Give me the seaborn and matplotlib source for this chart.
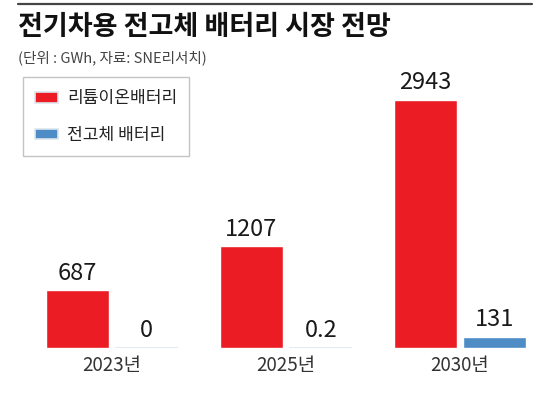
import pandas as pd
import matplotlib.pyplot as plt
import seaborn as sns
from matplotlib.lines import Line2D

# data (GWh)
years = ["2023년", "2025년", "2030년"]
liion = [687, 1207, 2943]
solid = [0, 0.2, 131]
series_names = ["리튬이온배터리", "전고체 배터리"]
value_labels = [["687", "1207", "2943"], ["0", "0.2", "131"]]

df = pd.DataFrame({
    "year": years * 2,
    "value": liion + solid,
    "type": [series_names[0]] * 3 + [series_names[1]] * 3,
})

sns.set_theme(style="white")
plt.rcParams["font.family"] = ["Noto Sans CJK KR", "DejaVu Sans"]

fig = plt.figure(figsize=(5.44, 3.97), dpi=100)
ax = fig.add_axes([0, 0.1234, 1, 0.8766])

palette = {series_names[0]: "#EC1C24", series_names[1]: "#4D8CC5"}
sns.barplot(data=df, x="year", y="value", hue="type", palette=palette,
            width=0.8, gap=0.09, saturation=1, ax=ax)

# zero-height bars show as a faint line on the baseline
for p in ax.patches:
    if p.get_height() < 1:
        p.set_edgecolor("#dde6ee")
        p.set_linewidth(1.2)

for cont, labs in zip(ax.containers, value_labels):
    ax.bar_label(cont, labels=labs, padding=4, fontsize=17, color="#1a1a1a")

ax.set_xlim(-0.644, 2.483)
ax.set_ylim(0, 4128)
ax.set_xlabel("")
ax.set_ylabel("")
ax.set_yticks([])
ax.tick_params(axis="x", length=0, pad=5, labelsize=13.5, labelcolor="#333333")
for s in ax.spines.values():
    s.set_visible(False)
ax.set_facecolor("none")

leg = ax.legend(loc="upper left", bbox_to_anchor=(23 / 544, 1 - 77 / 397),
                bbox_transform=fig.transFigure, fontsize=12.3,
                frameon=True, fancybox=False, edgecolor="#b5b5b5",
                handlelength=1.35, handleheight=0.6, handletextpad=0.5,
                labelspacing=1.1, borderpad=0.72, borderaxespad=0)
leg.get_frame().set_linewidth(1.0)
for t in leg.get_texts():
    t.set_color("#222222")
# stretch the frame a little to the right, as in the original box
fig.canvas.draw()
bb = leg.get_frame().get_bbox()
leg.get_frame().set_width(bb.width + 6)

fig.add_artist(Line2D([18 / 544, 532 / 544], [1 - 4 / 397, 1 - 4 / 397],
                      color="#444444", lw=1.6))
fig.text(18 / 544, 1 - 27 / 397, "전기차용 전고체 배터리 시장 전망",
         fontsize=19.5, fontweight="heavy", color="#111111", va="center")
fig.text(18 / 544, 1 - 58 / 397, "(단위 : GWh, 자료: SNE리서치)",
         fontsize=10.5, color="#444444", va="center")

fig.savefig("out.png", dpi=100)
